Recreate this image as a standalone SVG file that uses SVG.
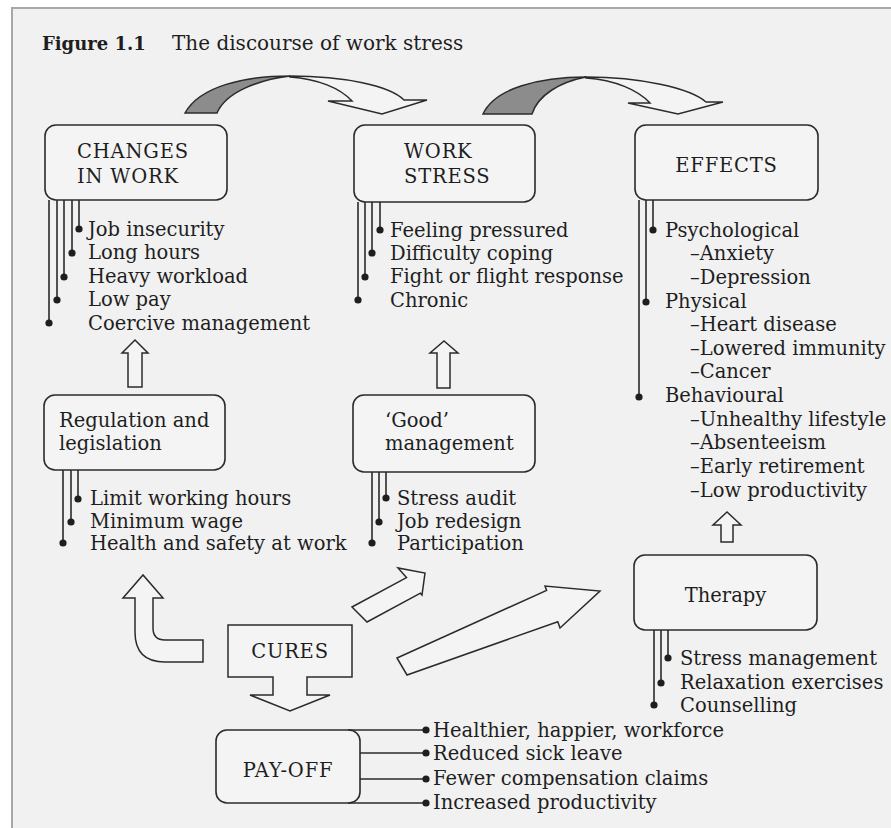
<svg xmlns="http://www.w3.org/2000/svg" width="891" height="828" viewBox="0 0 891 828">
<style>
.bg{fill:#f1f1f1;stroke:#a8a8a8;stroke-width:2}
.box{fill:#f4f4f4;stroke:#2b2b2b;stroke-width:1.6}
.ln{fill:none;stroke:#2b2b2b;stroke-width:1.6}
.dot{fill:#1e1e1e}
.arr{fill:#f4f4f4;stroke:#2b2b2b;stroke-width:1.5;stroke-linejoin:miter}
.dark{fill:#8c8c8c;stroke:#2b2b2b;stroke-width:1.5}
text{font-family:"DejaVu Serif","Liberation Serif",serif;fill:#1e1e1e}
.t{font-size:19.5px}
.h{font-size:19.5px}
.c{letter-spacing:0.8px}
.ti{font-size:18px}
</style>
<rect x="0" y="0" width="891" height="828" fill="#ffffff"/>
<rect class="bg" x="12" y="8" width="900" height="840"/>
<g id="title">
<text class="ti" x="42" y="50" font-weight="bold">Figure 1.1</text>
<text x="172" y="50" font-size="20px">The discourse of work stress</text>
</g>
<g id="changes">
<rect class="box" x="45" y="125" width="182" height="75" rx="11"/>
<text class="h c" x="77" y="158">CHANGES</text>
<text class="h c" x="77" y="183">IN WORK</text>
<path class="ln" d="M49,200V323M57,200V300M64,200V277M72,200V253M79,200V229"/>
<circle class="dot" cx="49" cy="323" r="3.6"/><circle class="dot" cx="57" cy="300" r="3.6"/><circle class="dot" cx="64" cy="277" r="3.6"/><circle class="dot" cx="72" cy="253" r="3.6"/><circle class="dot" cx="79" cy="229" r="3.6"/>
<text class="t" x="88" y="236">Job insecurity</text>
<text class="t" x="88" y="259">Long hours</text>
<text class="t" x="88" y="283">Heavy workload</text>
<text class="t" x="88" y="306">Low pay</text>
<text class="t" x="88" y="330">Coercive management</text>
</g>
<g id="workstress">
<rect class="box" x="354" y="125" width="181" height="77" rx="11"/>
<text class="h c" x="404" y="158">WORK</text>
<text class="h c" x="404" y="183">STRESS</text>
<path class="ln" d="M358,202V300M365,202V277M372,202V253M380,202V230"/>
<circle class="dot" cx="358" cy="300" r="3.6"/><circle class="dot" cx="365" cy="277" r="3.6"/><circle class="dot" cx="372" cy="253" r="3.6"/><circle class="dot" cx="380" cy="230" r="3.6"/>
<text class="t" x="390" y="237">Feeling pressured</text>
<text class="t" x="390" y="260">Difficulty coping</text>
<text class="t" x="390" y="283">Fight or flight response</text>
<text class="t" x="390" y="307">Chronic</text>
</g>
<g id="effects">
<rect class="box" x="635" y="125" width="183" height="75" rx="11"/>
<text class="h c" x="726.5" y="172" text-anchor="middle">EFFECTS</text>
<path class="ln" d="M639,200V397M646,200V302M653,200V230"/>
<circle class="dot" cx="639" cy="397" r="3.6"/><circle class="dot" cx="646" cy="302" r="3.6"/><circle class="dot" cx="653" cy="230" r="3.6"/>
<text class="t" x="665" y="237">Psychological</text>
<text class="t" x="690" y="260">–Anxiety</text>
<text class="t" x="690" y="284">–Depression</text>
<text class="t" x="665" y="308">Physical</text>
<text class="t" x="690" y="331">–Heart disease</text>
<text class="t" x="690" y="355">–Lowered immunity</text>
<text class="t" x="690" y="378">–Cancer</text>
<text class="t" x="665" y="402">Behavioural</text>
<text class="t" x="690" y="426">–Unhealthy lifestyle</text>
<text class="t" x="690" y="449">–Absenteeism</text>
<text class="t" x="690" y="473">–Early retirement</text>
<text class="t" x="690" y="497">–Low productivity</text>
</g>
<g id="regulation">
<rect class="box" x="44" y="395" width="181" height="75" rx="11"/>
<text class="h" x="59" y="427">Regulation and</text>
<text class="h" x="59" y="450">legislation</text>
<path class="ln" d="M63,470V543M71,470V522M78,470V499"/>
<circle class="dot" cx="63" cy="543" r="3.6"/><circle class="dot" cx="71" cy="522" r="3.6"/><circle class="dot" cx="78" cy="499" r="3.6"/>
<text class="t" x="90" y="505">Limit working hours</text>
<text class="t" x="90" y="528">Minimum wage</text>
<text class="t" x="90" y="550">Health and safety at work</text>
</g>
<g id="goodmanagement">
<rect class="box" x="353" y="395" width="182" height="77" rx="11"/>
<text class="h" x="385" y="427">‘Good’</text>
<text class="h" x="385" y="450">management</text>
<path class="ln" d="M372,472V543M379,472V522M386,472V498"/>
<circle class="dot" cx="372" cy="543" r="3.6"/><circle class="dot" cx="379" cy="522" r="3.6"/><circle class="dot" cx="386" cy="498" r="3.6"/>
<text class="t" x="397" y="505">Stress audit</text>
<text class="t" x="397" y="528">Job redesign</text>
<text class="t" x="397" y="550">Participation</text>
</g>
<g id="therapy">
<rect class="box" x="634" y="555" width="183" height="75" rx="11"/>
<text class="h" x="725.5" y="602" text-anchor="middle">Therapy</text>
<path class="ln" d="M654,630V705M661,630V683M668,630V658"/>
<circle class="dot" cx="654" cy="705" r="3.6"/><circle class="dot" cx="661" cy="683" r="3.6"/><circle class="dot" cx="668" cy="658" r="3.6"/>
<text class="t" x="680" y="665">Stress management</text>
<text class="t" x="680" y="689">Relaxation exercises</text>
<text class="t" x="680" y="712">Counselling</text>
</g>
<g id="cures">
<path class="arr" d="M228,625H352V677H307V695H330L290,711L250,695H273V677H228Z"/>
<text class="h c" x="290" y="658" text-anchor="middle">CURES</text>
</g>
<g id="payoff">
<rect class="box" x="216" y="730" width="144" height="73" rx="11"/>
<text class="h c" x="288" y="777" text-anchor="middle">PAY-OFF</text>
<path class="ln" d="M348,730H426M360,753H426M360,779H426M348,803H426"/>
<circle class="dot" cx="426" cy="730" r="3.6"/><circle class="dot" cx="426" cy="753" r="3.6"/><circle class="dot" cx="426" cy="779" r="3.6"/><circle class="dot" cx="426" cy="803" r="3.6"/>
<text class="t" x="433" y="737">Healthier, happier, workforce</text>
<text class="t" x="433" y="760">Reduced sick leave</text>
<text class="t" x="433" y="785">Fewer compensation claims</text>
<text class="t" x="433" y="809">Increased productivity</text>
</g>
<g id="connectors">
<path class="dark" d="M185,113C200,86 245,76 290,76C258,80 226,92 217,113Z"/>
<path class="arr" d="M290,76C345,76 390,86 404,100L427,100L382,114L328,101L352,101C340,88 318,79 290,77Z"/>
<path class="dark" d="M483,114C495,88 540,77 586,77C560,82 538,95 532,114Z"/>
<path class="arr" d="M586,77C640,77 690,88 706,102L723,102L678,114L628,103L650,103C638,90 615,80 586,78Z"/>
<path class="arr" d="M128,387V353H122L135,340L148,353H142V387Z"/>
<path class="arr" d="M437,388V353H430L444,341L458,353H450V388Z"/>
<path class="arr" d="M721,542V525H713L727,512L741,525H733V542Z"/>
<path class="arr" d="M203,640H165Q153,640 153,628V598H163L143,575L123,598H135V632Q135,662 165,662H203Z"/>
<path class="arr" d="M352,607L406.5,577.6L398,568L425,573L422,595L420.4,593.2L367,622Z"/>
<path class="arr" d="M397,658L546.6,590.4L545,586L600,591L560,628L557.8,621.7L407,675Z"/>
</g>
</svg>
